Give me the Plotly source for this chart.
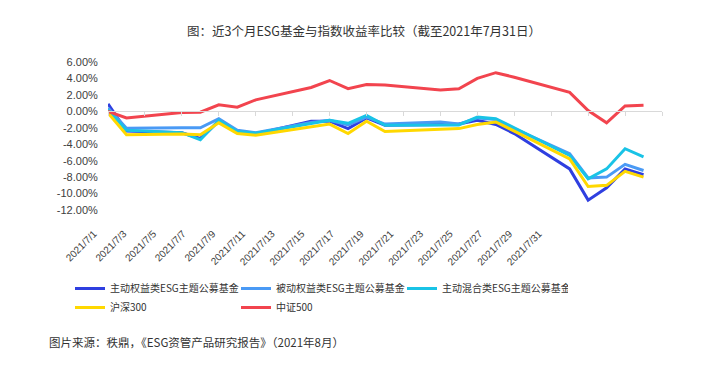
import plotly.graph_objects as go

# ---------------- data ----------------
dates = ["2021-07-01", "2021-07-02", "2021-07-05", "2021-07-06", "2021-07-07", "2021-07-08",
         "2021-07-09", "2021-07-12", "2021-07-13", "2021-07-14", "2021-07-15", "2021-07-16",
         "2021-07-19", "2021-07-20", "2021-07-21", "2021-07-22", "2021-07-23", "2021-07-26",
         "2021-07-27", "2021-07-28", "2021-07-29", "2021-07-30"]

active_equity = [0.9, -2.4, -2.6, -3.3, -1.2, -2.5, -2.75, -1.2, -1.2, -2.1, -0.8, -1.7,
                 -1.6, -1.55, -1.1, -1.6, -2.7, -7.0, -10.8, -9.3, -7.0, -7.7]
passive_equity = [0.4, -2.05, -2.0, -2.0, -0.9, -2.3, -2.6, -1.35, -1.1, -1.65, -0.7, -1.55,
                  -1.3, -1.55, -0.8, -1.0, -2.1, -5.15, -8.1, -8.0, -6.45, -7.2]
active_mixed = [0.2, -2.3, -2.6, -3.45, -1.1, -2.45, -2.65, -1.45, -1.1, -1.45, -0.5, -1.7,
                -1.6, -1.65, -0.7, -0.9, -2.0, -5.35, -8.2, -7.0, -4.55, -5.55]
hs300 = [-0.2, -2.85, -2.75, -2.85, -1.4, -2.7, -2.9, -1.95, -1.55, -2.7, -1.2, -2.45,
         -2.2, -2.1, -1.6, -1.3, -2.4, -5.8, -9.15, -9.0, -7.3, -8.0]
zz500 = [0.0, -0.8, -0.15, -0.1, 0.8, 0.5, 1.4, 2.9, 3.75, 2.75, 3.25, 3.2,
         2.6, 2.75, 4.0, 4.7, 4.15, 2.3, 0.1, -1.4, 0.65, 0.75]

series_names = ["主动权益类ESG主题公募基金", "被动权益类ESG主题公募基金", "主动混合类ESG主题公募基金",
                "沪深300", "中证500"]
series_values = [active_equity, passive_equity, active_mixed, hs300, zz500]
series_colors = ["#2f3fe0", "#4a9af5", "#19c3e6", "#ffd800", "#f2444e"]

x_tick_dates = ["2021-07-01", "2021-07-03", "2021-07-05", "2021-07-07", "2021-07-09",
                "2021-07-11", "2021-07-13", "2021-07-15", "2021-07-17", "2021-07-19",
                "2021-07-21", "2021-07-23", "2021-07-25", "2021-07-27", "2021-07-29",
                "2021-07-31"]
x_tick_labels = ["2021/7/1", "2021/7/3", "2021/7/5", "2021/7/7", "2021/7/9", "2021/7/11",
                 "2021/7/13", "2021/7/15", "2021/7/17", "2021/7/19", "2021/7/21", "2021/7/23",
                 "2021/7/25", "2021/7/27", "2021/7/29", "2021/7/31"]
y_ticks = [6, 4, 2, 0, -2, -4, -6, -8, -10, -12]
y_tick_labels = ["6.00%", "4.00%", "2.00%", "0.00%", "-2.00%", "-4.00%", "-6.00%",
                 "-8.00%", "-10.00%", "-12.00%"]

title_text = "图：近3个月ESG基金与指数收益率比较（截至2021年7月31日）"
source_text = "图片来源：秩鼎，《ESG资管产品研究报告》（2021年8月）"

# ---------------- layout constants ----------------
OFF = 8                       # page body margin
W, H = 713 - OFF, 370 - OFF
ML, MR, MT, MB = 62, 40, 54, 160
PW = W - ML - MR
PH = H - MT - MB
Y_MIN, Y_MAX = -12, 6


def xp(page_px):
    return (page_px - OFF - ML) / PW


def yp(page_px):
    return (H - MB - (page_px - OFF)) / PH


CJK = "Noto Sans CJK SC, Liberation Sans, sans-serif"
NUM = "Liberation Sans, Noto Sans CJK SC, sans-serif"

fig = go.Figure()
for name, vals, color in zip(series_names, series_values, series_colors):
    fig.add_trace(go.Scatter(x=dates, y=vals, mode="lines", name=name,
                             line=dict(color=color, width=3),
                             xaxis="x", yaxis="y"))

# invisible trace carrying the label axis
fig.add_trace(go.Scatter(x=x_tick_dates, y=[None] * len(x_tick_dates), mode="lines",
                         xaxis="x2", yaxis="y", showlegend=False, hoverinfo="skip"))

fig.update_layout(
    width=W, height=H,
    paper_bgcolor="white", plot_bgcolor="rgba(0,0,0,0)",
    margin=dict(l=ML, r=MR, t=MT, b=MB, pad=0),
    title=dict(text=title_text, x=(364 - OFF) / W, xref="container",
               xanchor="center", y=1 - (32 - OFF) / H, yanchor="middle",
               font=dict(family=CJK, size=12.5, color="#333333")),
    xaxis=dict(type="date", range=["2021-07-01", "2021-07-31"],
               domain=[xp(108), xp(662)],
               anchor="free", position=(0 - Y_MIN) / (Y_MAX - Y_MIN),
               showgrid=False, zeroline=False,
               showline=True, linecolor="#d9d9d9", linewidth=1,
               ticks="outside", ticklen=4, tickcolor="#d9d9d9",
               tickvals=x_tick_dates, showticklabels=False),
    xaxis2=dict(type="date", range=["2021-07-01", "2021-07-31"],
                domain=[xp(94), xp(539)],
                anchor="y", side="bottom",
                showgrid=False, zeroline=False, showline=False,
                ticks="outside", ticklen=13, tickcolor="rgba(0,0,0,0)",
                tickvals=x_tick_dates, ticktext=x_tick_labels, tickangle=-45,
                tickfont=dict(family=NUM, size=10, color="#404040")),
    yaxis=dict(range=[Y_MIN, Y_MAX], showgrid=False, zeroline=False, showline=False,
               tickvals=y_ticks, ticktext=y_tick_labels,
               ticks="outside", ticklen=7, tickcolor="rgba(0,0,0,0)",
               tickfont=dict(family=NUM, size=11, color="#404040")),
    legend=dict(orientation="h", x=0, xanchor="left",
                y=yp(274), yanchor="top",
                entrywidth=121, entrywidthmode="pixels", itemwidth=30,
                font=dict(family=CJK, size=10, color="#333333"),
                tracegroupgap=0, bgcolor="rgba(0,0,0,0)"),
    annotations=[dict(text=source_text, xref="paper", yref="paper",
                      x=xp(47), xanchor="left",
                      y=yp(342), yanchor="middle",
                      showarrow=False,
                      font=dict(family=CJK, size=11.5, color="#333333"))],
)

fig.write_html("out.html")
